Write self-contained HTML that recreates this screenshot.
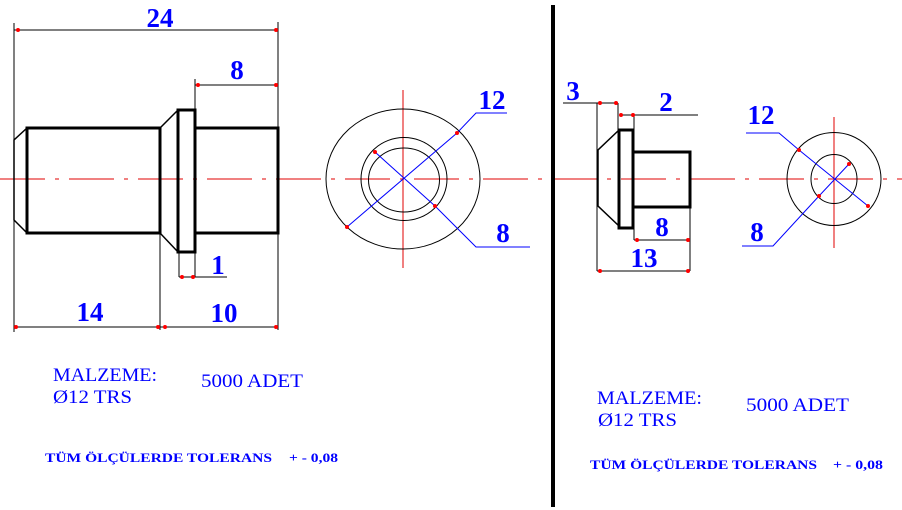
<!DOCTYPE html>
<html><head><meta charset="utf-8"><style>
html,body{margin:0;padding:0;background:#fff;}
svg{display:block;}
.d{font-family:"Liberation Serif",serif;font-weight:bold;fill:#0000ff;font-size:27px;}
.t{font-family:"Liberation Serif",serif;fill:#0000ff;font-size:19px;}
.b{font-family:"Liberation Serif",serif;font-weight:bold;fill:#0000ff;font-size:13px;}
</style></head><body>
<svg width="902" height="510" viewBox="0 0 902 510" xmlns="http://www.w3.org/2000/svg">
<!-- center line -->
<line x1="0" y1="179" x2="902" y2="179" stroke="#e00000" stroke-width="1" stroke-dasharray="45,10,4,10"/>
<!-- LEFT PART -->
<g stroke="#000" stroke-width="1" fill="none">
<line x1="14" y1="23" x2="14" y2="332"/>
<line x1="278" y1="22" x2="278" y2="330"/>
<line x1="14" y1="30" x2="278" y2="30"/>
<line x1="195" y1="79" x2="195" y2="110"/>
<line x1="195" y1="85" x2="278" y2="85"/>
<line x1="179" y1="252" x2="179" y2="277"/>
<line x1="195" y1="252" x2="195" y2="277"/>
<line x1="179" y1="277" x2="227" y2="277"/>
<line x1="160" y1="233" x2="160" y2="330"/>
<line x1="14" y1="327" x2="278" y2="327"/>
</g>
<g stroke="#000" stroke-width="3" fill="none">
<rect x="27" y="128" width="133" height="105"/>
<rect x="178" y="110" width="17" height="142"/>
<rect x="195" y="128" width="83" height="105"/>
</g>
<g stroke="#000" stroke-width="1.5" fill="none">
<polyline points="27,128 14,140 14,220 27,233"/>
<line x1="160" y1="128" x2="178" y2="110"/>
<line x1="160" y1="233" x2="178" y2="252"/>
</g>
<g fill="#f00">
<circle cx="18" cy="30" r="2"/><circle cx="276" cy="30" r="2"/>
<circle cx="198" cy="85" r="2"/><circle cx="276" cy="85" r="2"/>
<circle cx="182" cy="277" r="2"/><circle cx="193" cy="277" r="2"/>
<circle cx="16" cy="327" r="2"/><circle cx="158" cy="327" r="2"/>
<circle cx="165" cy="327" r="2"/><circle cx="276" cy="327" r="2"/>
</g>
<text class="d" x="160" y="27" text-anchor="middle">24</text>
<text class="d" x="237" y="79" text-anchor="middle">8</text>
<text class="d" x="218" y="274" text-anchor="middle">1</text>
<text class="d" x="90" y="321" text-anchor="middle">14</text>
<text class="d" x="224" y="322" text-anchor="middle">10</text>
<!-- left circles -->
<line x1="403" y1="90" x2="403" y2="268" stroke="#e00000" stroke-width="1"/>
<g stroke="#000" stroke-width="1" fill="none">
<ellipse cx="403" cy="179" rx="77" ry="70"/>
<ellipse cx="404" cy="179" rx="43" ry="41.5"/>
<ellipse cx="404" cy="180" rx="35.5" ry="32"/>
</g>
<g stroke="#0000ff" stroke-width="1" fill="none">
<polyline points="347,227 457,133 476,113 507,113"/>
<polyline points="375,152 435,206 476,247 530,247"/>
</g>
<g fill="#f00">
<circle cx="347" cy="227" r="2"/><circle cx="457" cy="133" r="2"/>
<circle cx="375" cy="152" r="2"/><circle cx="435" cy="206" r="2"/>
</g>
<text class="d" x="492" y="109" text-anchor="middle">12</text>
<text class="d" x="503" y="242" text-anchor="middle">8</text>
<!-- divider -->
<line x1="553" y1="5" x2="553" y2="507" stroke="#000" stroke-width="4"/>
<!-- RIGHT PART -->
<g stroke="#000" stroke-width="1" fill="none">
<line x1="597" y1="103" x2="597" y2="271"/>
<line x1="618" y1="103" x2="618" y2="130"/>
<line x1="634" y1="115" x2="634" y2="240"/>
<line x1="690" y1="207" x2="690" y2="271"/>
<line x1="563" y1="103" x2="618" y2="103"/>
<line x1="620" y1="115" x2="698" y2="115"/>
<line x1="634" y1="240" x2="690" y2="240"/>
<line x1="597" y1="271" x2="690" y2="271"/>
</g>
<g stroke="#000" stroke-width="3" fill="none">
<rect x="619" y="130" width="14" height="98"/>
<rect x="633" y="152" width="57" height="55"/>
</g>
<g stroke="#000" stroke-width="1.5" fill="none">
<polyline points="619,130 598,150 598,206 619,226"/>
</g>
<g fill="#f00">
<circle cx="600" cy="103" r="2"/><circle cx="616" cy="103" r="2"/>
<circle cx="621" cy="115" r="2"/><circle cx="633" cy="115" r="2"/>
<circle cx="637" cy="240" r="2"/><circle cx="688" cy="240" r="2"/>
<circle cx="600" cy="271" r="2"/><circle cx="688" cy="271" r="2"/>
</g>
<text class="d" x="573" y="100" text-anchor="middle">3</text>
<text class="d" x="666" y="111" text-anchor="middle">2</text>
<text class="d" x="662" y="236" text-anchor="middle">8</text>
<text class="d" x="644" y="267" text-anchor="middle">13</text>
<!-- right circles -->
<line x1="834" y1="117" x2="834" y2="248" stroke="#e00000" stroke-width="1"/>
<g stroke="#000" stroke-width="1" fill="none">
<ellipse cx="834" cy="179" rx="47" ry="46.5"/>
<ellipse cx="834" cy="179" rx="23" ry="24.5"/>
</g>
<g stroke="#0000ff" stroke-width="1" fill="none">
<polyline points="868,206 799,150 779,133 746,133"/>
<polyline points="849,164 819,196 773,246 742,246"/>
</g>
<g fill="#f00">
<circle cx="868" cy="206" r="2"/><circle cx="799" cy="150" r="2"/>
<circle cx="849" cy="164" r="2"/><circle cx="819" cy="196" r="2"/>
</g>
<text class="d" x="761" y="124" text-anchor="middle">12</text>
<text class="d" x="757" y="241" text-anchor="middle">8</text>
<!-- texts -->
<text class="t" x="53" y="381" textLength="104" lengthAdjust="spacingAndGlyphs">MALZEME:</text>
<text class="t" x="53" y="403" textLength="79" lengthAdjust="spacingAndGlyphs">Ø12 TRS</text>
<text class="t" x="201" y="387" textLength="102" lengthAdjust="spacingAndGlyphs">5000 ADET</text>
<text class="b" x="45" y="462" textLength="227" lengthAdjust="spacingAndGlyphs">TÜM ÖLÇÜLERDE TOLERANS</text>
<text class="b" x="289" y="462" textLength="49" lengthAdjust="spacingAndGlyphs">+ - 0,08</text>
<text class="t" x="597" y="404" textLength="105" lengthAdjust="spacingAndGlyphs">MALZEME:</text>
<text class="t" x="598" y="426" textLength="79" lengthAdjust="spacingAndGlyphs">Ø12 TRS</text>
<text class="t" x="746" y="411" textLength="103" lengthAdjust="spacingAndGlyphs">5000 ADET</text>
<text class="b" x="590" y="469" textLength="227" lengthAdjust="spacingAndGlyphs">TÜM ÖLÇÜLERDE TOLERANS</text>
<text class="b" x="833" y="469" textLength="50" lengthAdjust="spacingAndGlyphs">+ - 0,08</text>
</svg>
</body></html>
